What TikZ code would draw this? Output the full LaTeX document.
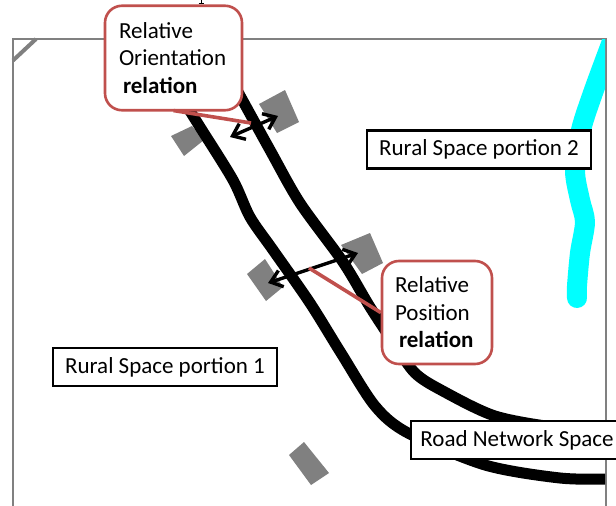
\documentclass[tikz,border=0pt]{standalone}
\usepackage{fontspec}
\setmainfont{Carlito}
\usetikzlibrary{arrows.meta}
\definecolor{calloutred}{HTML}{C0504D}
\definecolor{framegray}{HTML}{808080}
\definecolor{rivercyan}{HTML}{00FFFF}
\tikzset{
  framepath/.style={draw=framegray,line width=2pt},
  building/.style={fill=framegray,draw=none},
  roadline/.style={draw=black,line width=11pt,line join=round},
  riverline/.style={draw=rivercyan,line width=20pt,line cap=round,line join=round},
  relarrow/.style={draw=black,line width=3.4pt,{Straight Barb[length=11pt,width=17pt,line width=3.4pt]}-{Straight Barb[length=11pt,width=17pt,line width=3.4pt]}},
  labelbox/.style={draw=black,fill=white,line width=2.6pt,inner sep=0pt,font=\fontsize{23pt}{26pt}\selectfont,anchor=center},
  calloutbox/.style={draw=calloutred,fill=white,line width=2.6pt,rounded corners=17pt,align=left,inner xsep=0pt,inner ysep=0pt,font=\fontsize{23pt}{27.5pt}\selectfont,anchor=center},
  calloutpointer/.style={draw=calloutred,line width=3.6pt}
}
\begin{document}
\begin{tikzpicture}[x=1pt,y=-1pt]
\useasboundingbox (0,0) rectangle (616,506);
% cut-off mark at the top edge
\draw[black,line width=1pt] (201,0) -- (201,3.5) (198.5,3.6) -- (203.5,3.6);
% frame
\draw[framepath] (13,512) -- (13,39) -- (605.5,39) -- (605.5,512);
\draw[framegray,line width=4pt] (13,60.5) -- (36,39);
% river
\begin{scope}
\clip (0,39) rectangle (605,506);
\draw[riverline] plot[smooth,tension=0.5] coordinates {(614,36) (594,90) (581,130) (575,170) (580,200) (585,222) (580,253) (577,286) (577,298)};
\end{scope}
% buildings
\fill[building] (171,136) -- (192,126) -- (204,140) -- (184,156) -- cycle;
\fill[building] (259,104) -- (285,90) -- (299,122) -- (277,133) -- cycle;
\fill[building] (247,274) -- (265,259) -- (283,287) -- (266,301) -- cycle;
\fill[building] (341,245) -- (370,233) -- (383,263) -- (362,274) -- cycle;
\fill[building] (289,455) -- (304,442) -- (329,473) -- (311,485) -- cycle;
% roads
\begin{scope}
\clip (0,0) rectangle (605,506);
\draw[roadline] plot[smooth,tension=0.5] coordinates {(183,100) (200,127) (233,180) (250,217) (273,250) (310,303) (341,353) (375,406) (408,433) (485,465) (560,478) (610,479)};
\draw[roadline] plot[smooth,tension=0.5] coordinates {(238,92) (270,150) (300,203) (343,262) (370,307) (395,345) (415,373) (441,390) (495,416) (560,428) (610,431)};
\end{scope}
% arrows
\coordinate (topA) at (230,137);
\coordinate (topB) at (278,116);
\coordinate (lowA) at (268,283);
\coordinate (lowB) at (358,253);
\draw[relarrow] (topA) -- (topB);
\draw[relarrow] (lowA) -- (lowB);
% callouts
\coordinate (orientTip) at (251,123);
\coordinate (posTip) at (309,268);
\node[calloutbox,minimum width=137pt,minimum height=104.5pt,text width=109pt] (orient) at (173.5,58) {Relative\\Orientation\\\hspace*{4pt}\textbf{relation}};
\node[calloutbox,minimum width=110pt,minimum height=103pt,text width=84pt] (posit) at (437,312.5) {Relative\\Position\\\hspace*{4pt}\textbf{relation}};
\draw[calloutpointer] (orient.south) ++(0,-1) -- (orientTip);
\draw[calloutpointer] (posit.west) -- (posTip);
% labels
\node[labelbox,minimum width=224pt,minimum height=38pt] (rural1) at (165,367) {Rural Space portion 1};
\node[labelbox,minimum width=224pt,minimum height=38pt] (rural2) at (479,149.5) {Rural Space portion 2};
\node[labelbox,minimum width=212pt,minimum height=38pt] (roadnet) at (517,440) {Road Network Space};
\end{tikzpicture}
\end{document}
